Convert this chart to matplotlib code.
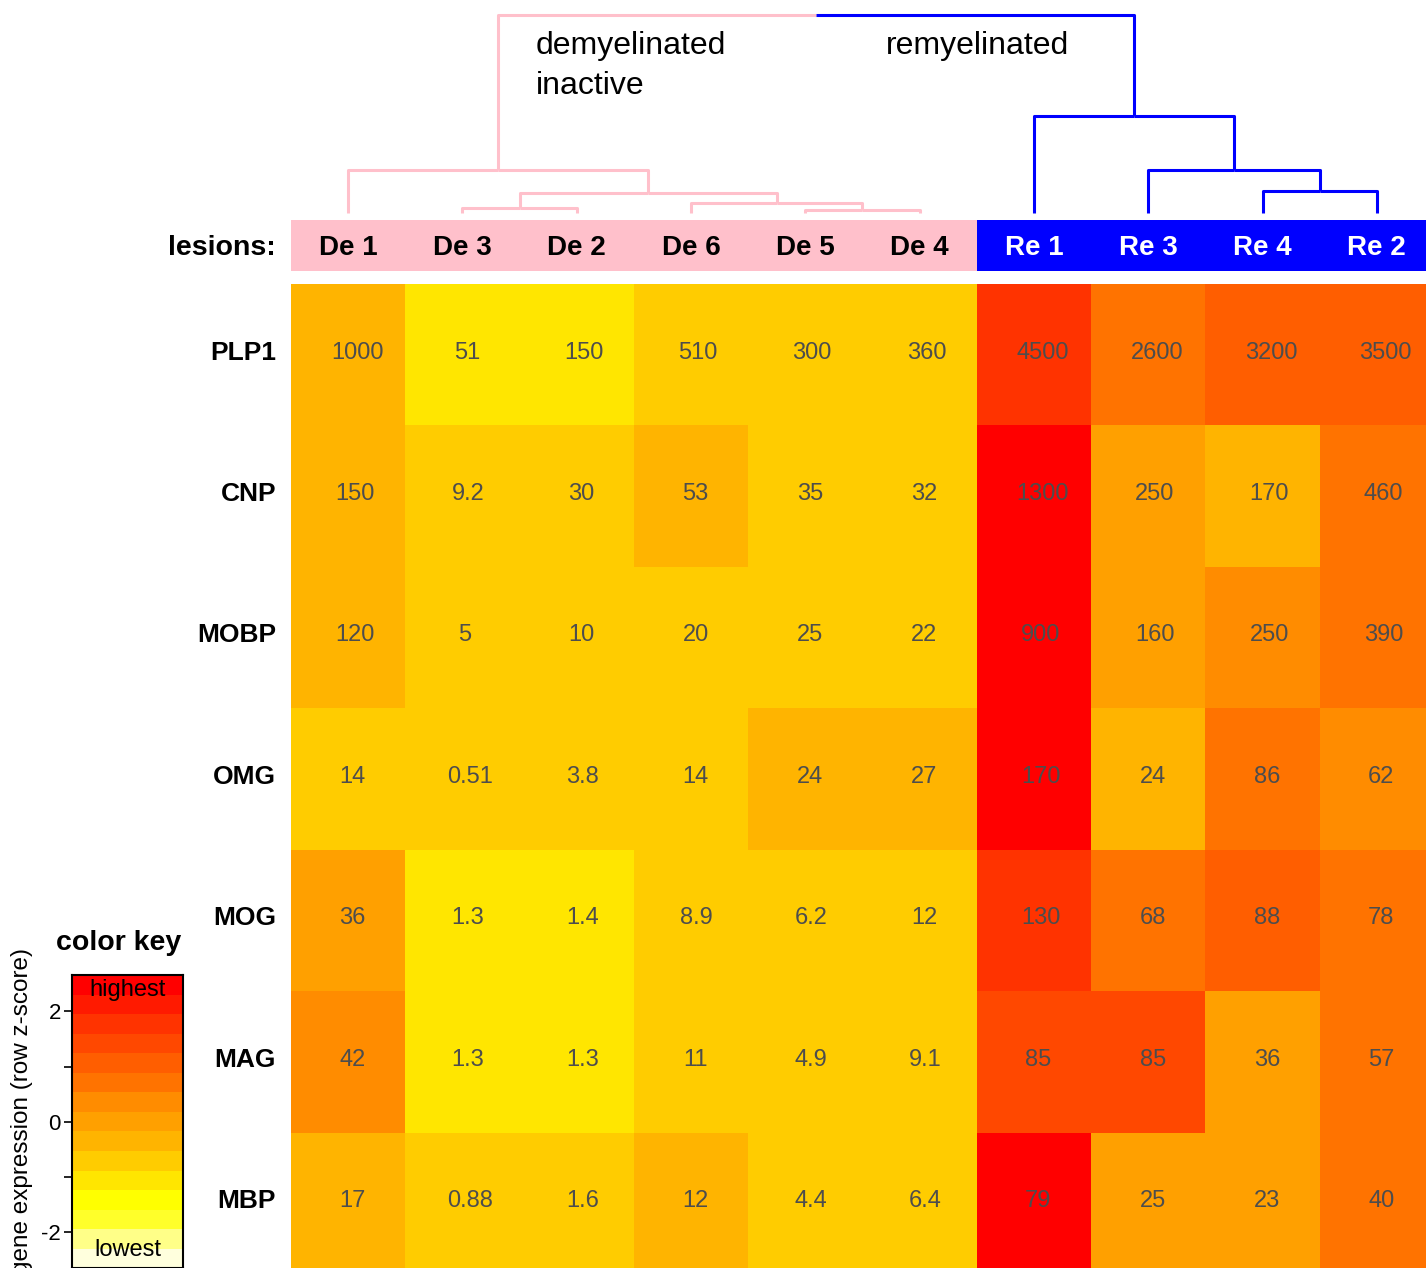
import numpy as np
import matplotlib
matplotlib.use('Agg')
import matplotlib.pyplot as plt
from matplotlib.colors import ListedColormap, BoundaryNorm

plt.rcParams['font.family'] = ['Liberation Sans', 'DejaVu Sans']

# lesions in dendrogram order
lesions = ['De 1', 'De 3', 'De 2', 'De 6', 'De 5', 'De 4', 'Re 1', 'Re 3', 'Re 4', 'Re 2']
lesion_group = ['de'] * 6 + ['re'] * 4
genes = ['PLP1', 'CNP', 'MOBP', 'OMG', 'MOG', 'MAG', 'MBP']

# numbers printed in the cells
cell_text = [
    ['1000', '51', '150', '510', '300', '360', '4500', '2600', '3200', '3500'],
    ['150', '9.2', '30', '53', '35', '32', '1300', '250', '170', '460'],
    ['120', '5', '10', '20', '25', '22', '900', '160', '250', '390'],
    ['14', '0.51', '3.8', '14', '24', '27', '170', '24', '86', '62'],
    ['36', '1.3', '1.4', '8.9', '6.2', '12', '130', '68', '88', '78'],
    ['42', '1.3', '1.3', '11', '4.9', '9.1', '85', '85', '36', '57'],
    ['17', '0.88', '1.6', '12', '4.4', '6.4', '79', '25', '23', '40'],
]

# colour-key band of each cell (0 = lowest, 14 = highest)
cell_band = [
    [6, 4, 4, 5, 5, 5, 12, 9, 10, 10],
    [6, 5, 5, 6, 5, 5, 14, 7, 6, 9],
    [6, 5, 5, 5, 5, 5, 14, 7, 8, 9],
    [5, 5, 5, 5, 6, 6, 14, 6, 9, 8],
    [7, 4, 4, 5, 5, 5, 12, 9, 10, 9],
    [8, 4, 4, 5, 5, 5, 11, 11, 7, 9],
    [6, 5, 5, 6, 5, 5, 14, 7, 7, 9],
]

key_colors = ['#FFFFDD', '#FFFF88', '#FFFF2A', '#FFFF00', '#FFE600', '#FFCC00',
              '#FFB400', '#FFA000', '#FF8C00', '#FF7300', '#FF5E00', '#FF4800',
              '#FF3300', '#FF1A00', '#FF0000']
key_zmax = 2.66
key_ticks = [-2, -1, 0, 1, 2]
key_ticklabels = ['-2', '', '0', '', '2']

# dendrogram: leaves 0..9, new nodes 10.. ; heights relative to the root
dend_left = [1, 4, 3, 10, 0, 8, 7, 6, 14]
dend_right = [2, 5, 11, 12, 13, 9, 15, 16, 17]
dend_height = [0.025, 0.015, 0.05, 0.101, 0.217, 0.111, 0.217, 0.49, 1.0]

group_color = {'de': '#FFC0CB', 're': '#0000FF'}
group_text = {'de': 'black', 're': 'white'}

W, H = 1426, 1268
fig = plt.figure(figsize=(W / 100, H / 100), dpi=100)


def px_axes(l, t, r, b):
    return fig.add_axes([l / W, 1 - b / H, (r - l) / W, (b - t) / H])


ncol, nrow = len(lesions), len(genes)
cmap = ListedColormap(key_colors)
norm = BoundaryNorm(np.arange(len(key_colors) + 1) - 0.5, cmap.N)

# heatmap
ax = px_axes(291, 284, 1434, 1274)
ax.pcolormesh(np.arange(ncol + 1), np.arange(nrow + 1), np.array(cell_band),
              cmap=cmap, norm=norm)
ax.set_xlim(0, ncol)
ax.set_ylim(nrow, 0)
ax.axis('off')

cw = {'.': 0.278}
for i in range(nrow):
    for j in range(ncol):
        s = cell_text[i][j]
        wid = sum(cw.get(c, 0.556) for c in s) * 17
        ax.annotate(s, (j + 0.5, i + 0.5), xytext=(0.17 * wid, 1.5),
                    textcoords='offset points', ha='center', va='center',
                    fontsize=17, color='#4d4d4d')
    ax.annotate(genes[i], (0, i + 0.5), xytext=(-10.8, 1.5), textcoords='offset points',
                ha='right', va='center', fontsize=19, fontweight='bold',
                annotation_clip=False)

# lesion bar
axb = px_axes(291, 220, 1434, 271)
axb.bar(np.arange(ncol), 1, width=1, align='edge',
        color=[group_color[g] for g in lesion_group])
for j, name in enumerate(lesions):
    axb.annotate(name, (j + 0.5, 0.5), xytext=(0, -2), textcoords='offset points',
                 ha='center', va='center', fontsize=20, fontweight='bold',
                 color=group_text[lesion_group[j]])
axb.set_xlim(0, ncol)
axb.set_ylim(0, 1)
axb.axis('off')
axb.annotate('lesions:', (0, 0.5), xycoords='axes fraction', xytext=(-10.8, -1.5),
             textcoords='offset points', ha='right', va='center', fontsize=20.5,
             fontweight='bold', annotation_clip=False)

# dendrogram
axd = px_axes(291, 15, 1434, 213)
node_x = [j + 0.5 for j in range(ncol)]
node_h = [0.0] * ncol
node_g = list(lesion_group)
for a, b, h in zip(dend_left, dend_right, dend_height):
    xa, xb = node_x[a], node_x[b]
    xm = (xa + xb) / 2
    ca, cb = group_color[node_g[a]], group_color[node_g[b]]
    axd.plot([xa, xa, xm], [node_h[a], h, h], color=ca, lw=2.2,
             solid_capstyle='butt', clip_on=False)
    axd.plot([xm, xb, xb], [h, h, node_h[b]], color=cb, lw=2.2,
             solid_capstyle='butt', clip_on=False)
    node_x.append(xm)
    node_h.append(h)
    node_g.append(node_g[a] if node_g[a] == node_g[b] else 'mixed')
axd.set_xlim(0, ncol)
axd.set_ylim(0, 1)
axd.axis('off')

fig.text(536 / W, 1 - 31 / H, 'demyelinated\ninactive', ha='left', va='top',
         fontsize=23, linespacing=1.45)
fig.text(886 / W, 1 - 31 / H, 'remyelinated', ha='left', va='top', fontsize=23)

# colour key
axk = px_axes(72, 975, 183, 1268.4)
edges = np.linspace(-key_zmax, key_zmax, len(key_colors) + 1)
axk.pcolormesh([0, 1], edges, np.arange(len(key_colors)).reshape(-1, 1),
               cmap=cmap, norm=norm)
axk.set_xlim(0, 1)
axk.set_ylim(-key_zmax, key_zmax)
axk.set_xticks([])
axk.set_yticks(key_ticks)
axk.set_yticklabels(key_ticklabels, fontsize=16)
axk.tick_params(axis='y', length=6, width=1.2, pad=2)
for sp in axk.spines.values():
    sp.set_linewidth(1.5)
axk.set_ylabel('gene expression (row z-score)', fontsize=17.5)
axk.yaxis.set_label_coords(-0.35, 0.535)
axk.text(0.5, 2.39, 'highest', ha='center', va='center', fontsize=17)
axk.text(0.5, -2.32, 'lowest', ha='center', va='center', fontsize=17)
fig.text(119 / W, 1 - 943 / H, 'color key', ha='center', va='center',
         fontsize=20.5, fontweight='bold')

fig.savefig('out.png', dpi=100)
